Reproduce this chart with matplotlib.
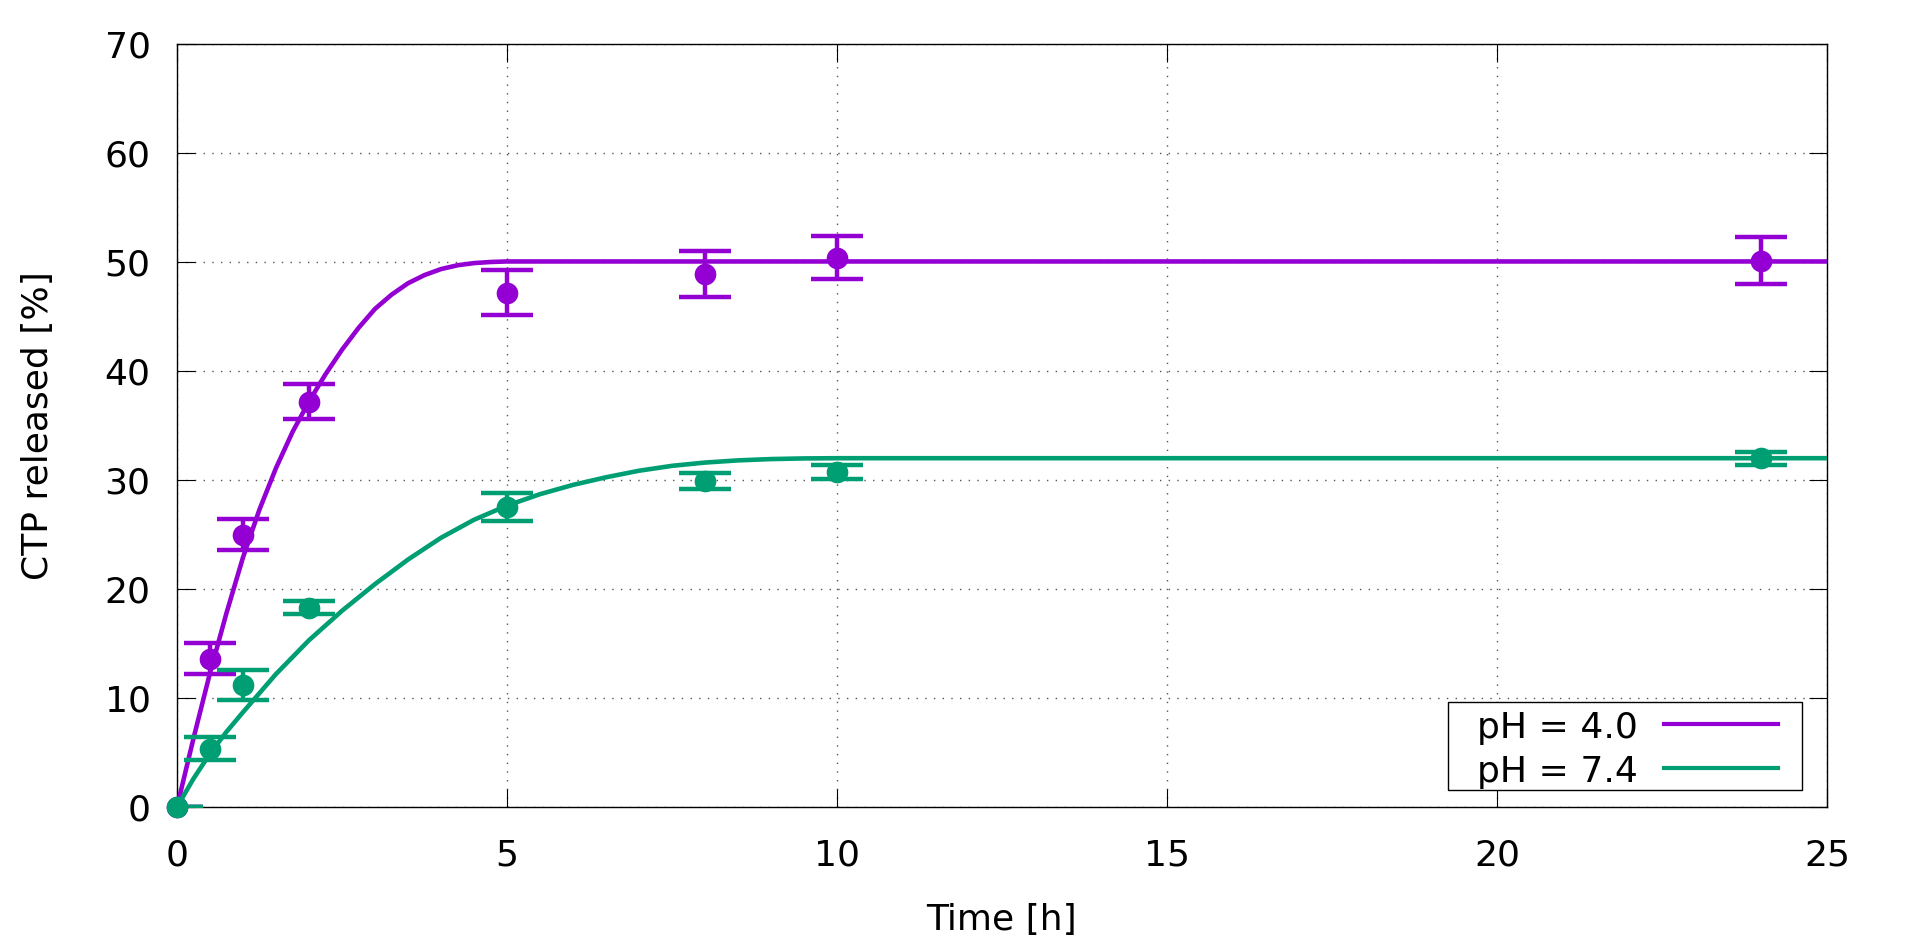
import numpy as np
import matplotlib
matplotlib.use("Agg")
import matplotlib.pyplot as plt
from matplotlib.patches import Rectangle

# measured release points
time_h = [0, 0.5, 1, 2, 5, 8, 10, 24]
ph40_vals = [0, 13.6, 25.0, 37.2, 47.2, 48.9, 50.4, 50.1]
ph40_err = [0, 1.42, 1.4, 1.6, 2.1, 2.15, 1.95, 2.15]
ph74_vals = [0, 5.35, 11.2, 18.3, 27.5, 29.9, 30.75, 32.0]
ph74_err = [0, 1.04, 1.35, 0.63, 1.3, 0.77, 0.62, 0.6]

# fitted curves
fit40_t = [0, 0.25, 0.5, 0.75, 1.0, 1.25, 1.5, 1.75, 2.0, 2.25, 2.5, 2.75, 3.0,
           3.25, 3.5, 3.75, 4.0, 4.25, 4.5, 4.75, 5.0, 25]
fit40_y = [0, 6.3, 12.3, 17.8, 22.9, 27.3, 31.1, 34.4, 37.2, 39.7, 41.95, 43.95, 45.7,
           47.0, 48.05, 48.8, 49.35, 49.7, 49.9, 50.0, 50.05, 50.05]
fit74_t = [0, 0.25, 0.5, 0.75, 1.0, 1.5, 2.0, 2.5, 3.0, 3.5, 4.0, 4.5, 5.0, 5.5,
           6.0, 6.5, 7.0, 7.5, 8.0, 8.5, 9.0, 9.5, 10.0, 25]
fit74_y = [0, 2.6, 4.9, 6.9, 8.7, 12.2, 15.3, 18.0, 20.45, 22.7, 24.7, 26.35, 27.65, 28.7,
           29.55, 30.25, 30.85, 31.3, 31.6, 31.8, 31.92, 31.98, 32.0, 32.0]

labels = ["pH = 4.0", "pH = 7.4"]
colors = ["#9400d3", "#009e73"]

xticks = [0, 5, 10, 15, 20, 25]
yticks = [0, 10, 20, 30, 40, 50, 60, 70]


def main():
    plt.rcParams['font.family'] = ['DejaVu Sans']
    plt.rcParams['font.size'] = 26

    fig = plt.figure(figsize=(19.2, 9.48), dpi=100)
    ax = fig.add_axes([177 / 1920, 1 - 807 / 948, 1650 / 1920, 763 / 948])

    series = [
        (ph40_vals, ph40_err, fit40_t, fit40_y),
        (ph74_vals, ph74_err, fit74_t, fit74_y),
    ]
    for i, (vals, err, ft, fy) in enumerate(series):
        z = 3 + i
        ax.errorbar(time_h, vals, yerr=err, fmt='none', ecolor=colors[i],
                    elinewidth=3.2, capsize=18.7, capthick=3.2, zorder=z)
        ax.plot(time_h, vals, 'o', color=colors[i], markersize=15.6,
                markeredgewidth=0, clip_on=False, zorder=z)
        ax.plot(ft, fy, '-', color=colors[i], linewidth=3.3, zorder=z,
                solid_joinstyle='round')

    ax.set_xlim(0, 25)
    ax.set_ylim(0, 70)
    ax.set_xticks(xticks)
    ax.set_yticks(yticks)
    ax.tick_params(axis='both', direction='in', length=13, width=0.8,
                   top=True, right=True, labelsize=26)
    ax.tick_params(axis='x', pad=23)
    ax.tick_params(axis='y', pad=19)
    for s in ax.spines.values():
        s.set_linewidth(1.0)

    ax.grid(True, color='#555555', linewidth=1.0, linestyle=(0, (1, 5.26)))
    ax.set_axisbelow(True)

    ax.set_xlabel('Time [h]', va='center')
    ax.xaxis.set_label_coords(0.5, (807 - 920) / 763)
    ax.set_ylabel('CTP released [%]', va='center')
    ax.yaxis.set_label_coords((38 - 177) / 1650, 0.5)

    # key box in the lower right, gnuplot style (text then line sample)
    ax.add_patch(Rectangle((0.7703, 0.0223), 0.9848 - 0.7703, 0.1376 - 0.0223,
                           transform=ax.transAxes, facecolor='white',
                           edgecolor='black', linewidth=1.0, zorder=6))
    text_base = [0.0904, 0.0324]
    line_y = [0.1084, 0.0507]
    for i in range(2):
        ax.text(0.8855, text_base[i], labels[i], transform=ax.transAxes,
                ha='right', va='baseline', fontsize=26, zorder=7)
        ax.plot([0.9012, 0.9703], [line_y[i], line_y[i]], color=colors[i],
                linewidth=3.0, transform=ax.transAxes, zorder=7)

    fig.savefig('out.png', dpi=100)


if __name__ == "__main__":
    main()
